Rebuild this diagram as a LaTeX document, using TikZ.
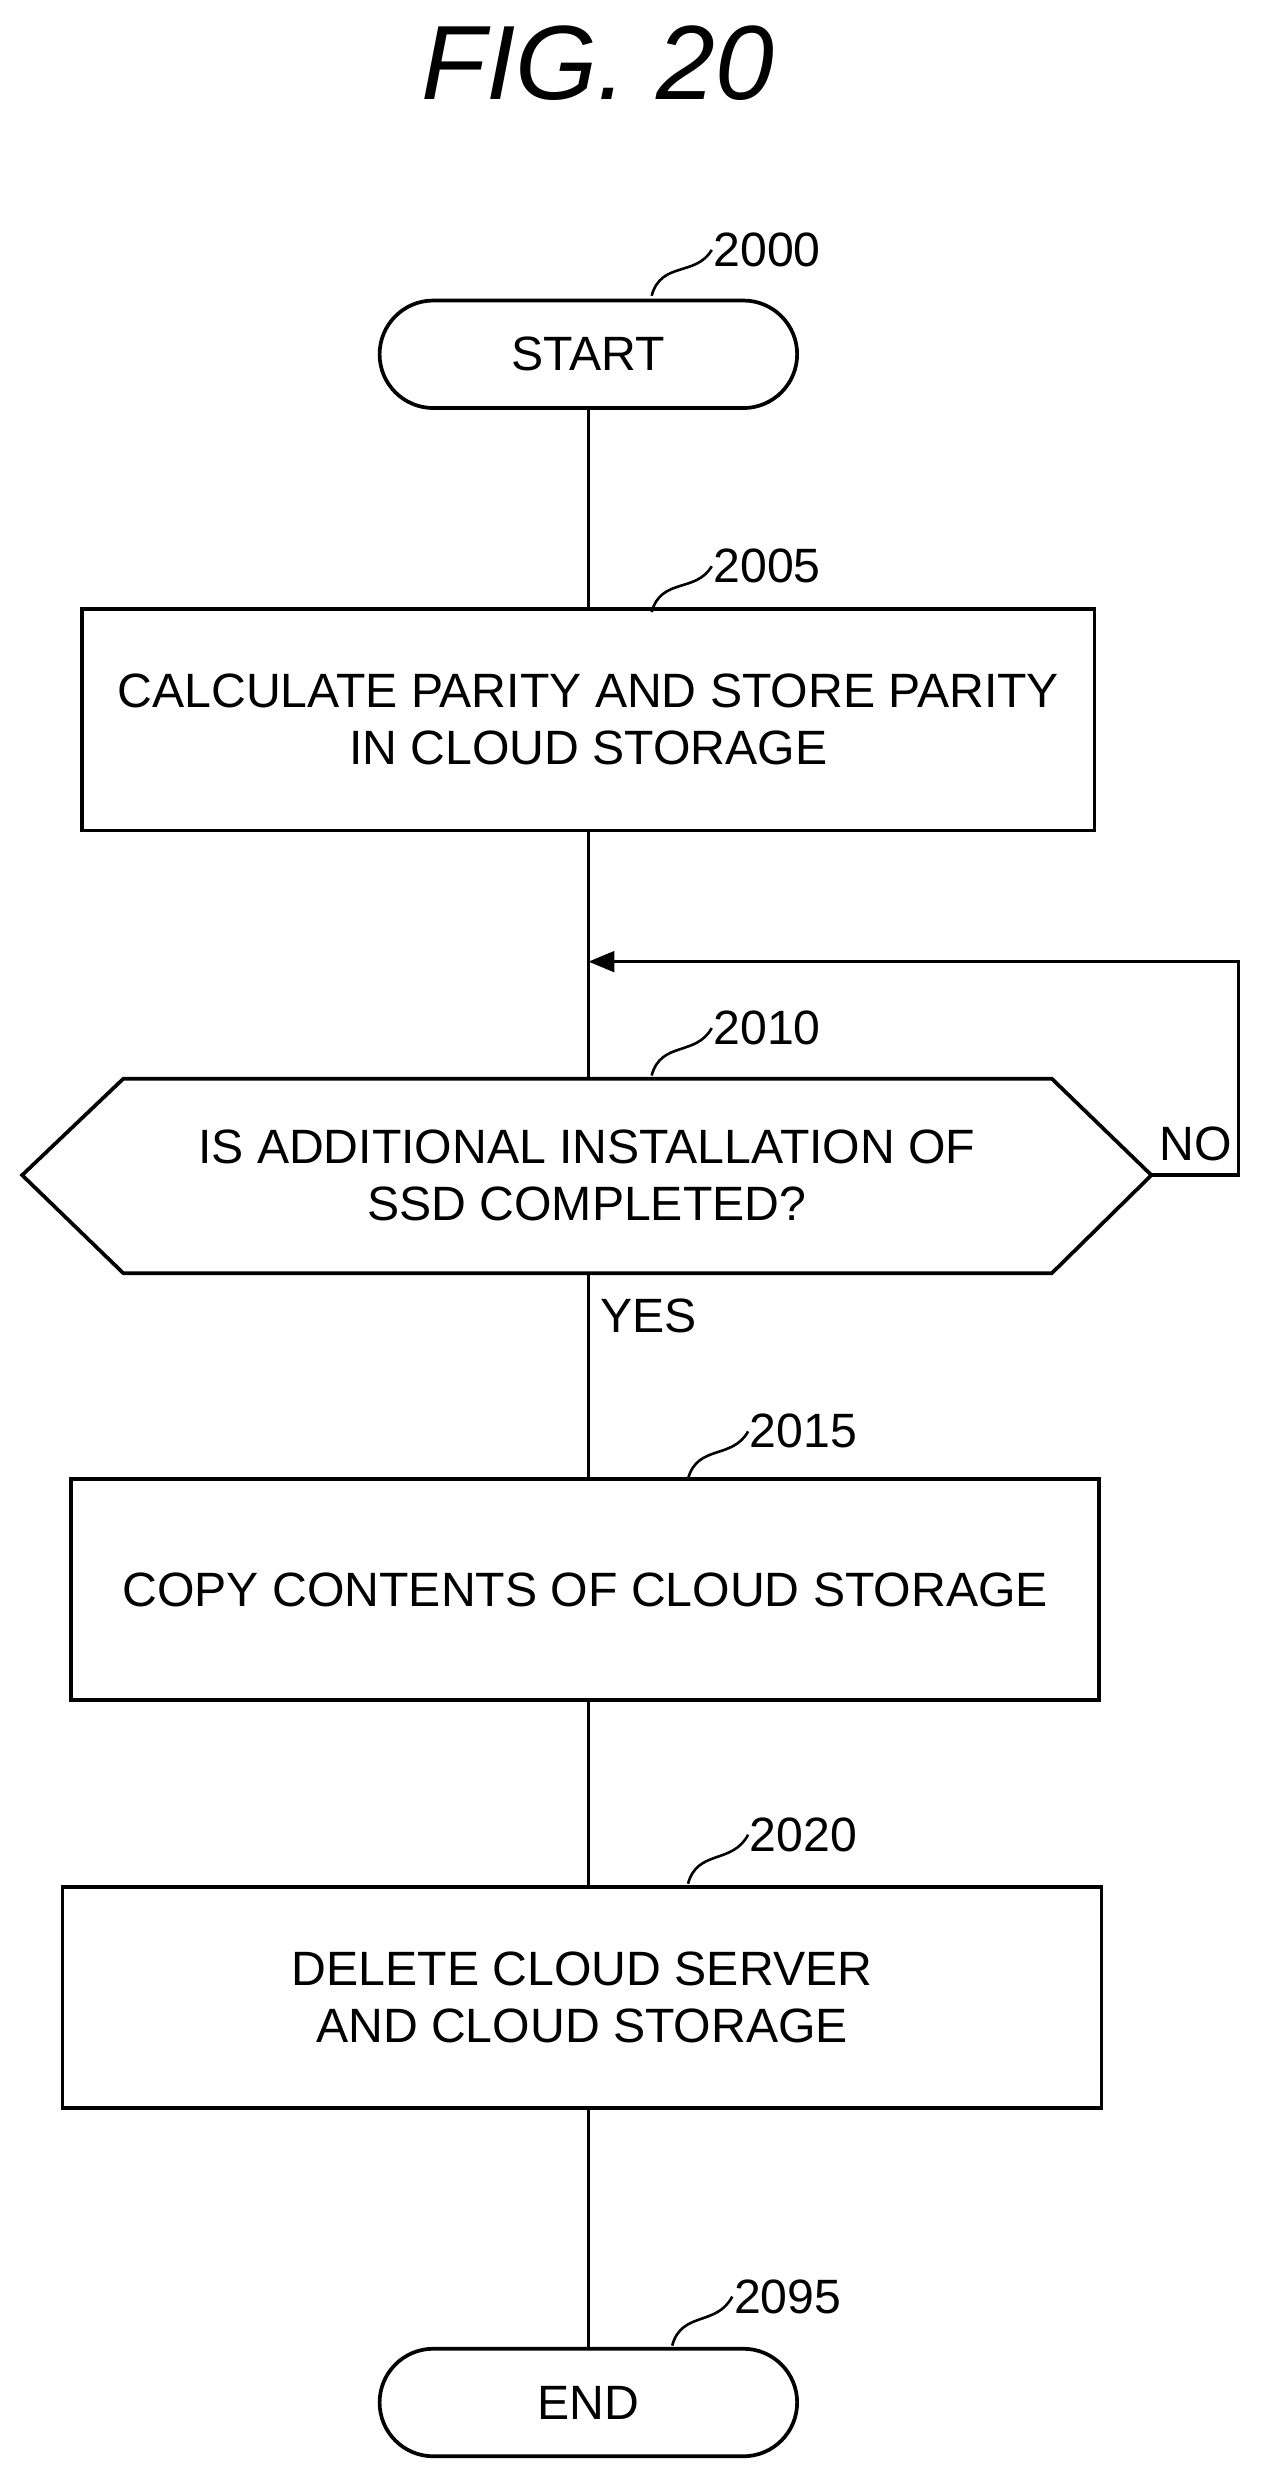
\documentclass[tikz,border=0pt]{standalone}
\usepackage{fontspec}
\setmainfont{Liberation Sans}
\usetikzlibrary{arrows.meta}
\tikzset{
  every node/.style={font=\fontsize{26}{31}\selectfont},
  flowbox/.style={draw,line width=2pt,minimum width=#1*0.03cm,minimum height=140*0.03cm,align=center},
  term/.style={draw,line width=2pt,rounded corners=34*0.03cm,minimum width=264*0.03cm,minimum height=68*0.03cm},
  lead/.style={line width=1.4pt},
  flow/.style={line width=2pt}
}
\begin{document}
\begin{tikzpicture}[x=0.03cm,y=-0.03cm]
  \useasboundingbox (0,0) rectangle (800,1568);
  \node[font=\fontsize{57}{64}\selectfont\itshape] (title) at (378,40) {FIG. 20};
  % steps
  \node[term] (start) at (372,224) {START};
  \node[flowbox=640] (s2005) at (372,455) {CALCULATE PARITY AND STORE PARITY\\IN CLOUD STORAGE};
  \draw[line width=2pt] (14,743) -- (78,682) -- (665,682) -- (728,743) -- (665,805) -- (78,805) -- cycle;
  \node[align=center] (s2010) at (371,743) {IS ADDITIONAL INSTALLATION OF\\SSD COMPLETED?};
  \coordinate (hexR) at (728,743);
  \coordinate (hexT) at (372,682);
  \coordinate (hexB) at (372,805);
  \node[flowbox=650] (s2015) at (370,1005) {COPY CONTENTS OF CLOUD STORAGE};
  \node[flowbox=657] (s2020) at (368,1263) {DELETE CLOUD SERVER\\AND CLOUD STORAGE};
  \node[term] (stop) at (372,1519) {END};
  % connectors
  \draw[flow] (start) -- (s2005.north -| start);
  \draw[flow] (s2005.south -| start) -- (hexT);
  \coordinate (back) at (372,608);
  \draw[flow,-{Triangle[length=14pt,width=11pt]}] (hexR) -- (783,743) -- (783,608) -- (back);
  \draw[flow] (hexB) -- (s2015.north -| hexB);
  \draw[flow] (s2015.south -| hexB) -- (s2020.north -| hexB);
  \draw[flow] (s2020.south -| hexB) -- (stop);
  \node (no) at (756,723) {NO};
  \node (yes) at (410,832) {YES};
  % reference labels
  \node (l2000) at (485,158) {2000};
  \draw[lead] (412,187) .. controls (418,165) and (440,175) .. (450,158);
  \node (l2005) at (485,358) {2005};
  \draw[lead] (412,387) .. controls (418,365) and (440,375) .. (450,358);
  \node (l2010) at (485,650) {2010};
  \draw[lead] (412,680) .. controls (418,658) and (440,668) .. (450,650);
  \node (l2015) at (508,905) {2015};
  \draw[lead] (435,935) .. controls (441,913) and (463,923) .. (473,905);
  \node (l2020) at (508,1160) {2020};
  \draw[lead] (435,1191) .. controls (441,1169) and (463,1179) .. (473,1160);
  \node (l2095) at (498,1452) {2095};
  \draw[lead] (425,1483) .. controls (431,1461) and (453,1471) .. (463,1452);
\end{tikzpicture}
\end{document}
